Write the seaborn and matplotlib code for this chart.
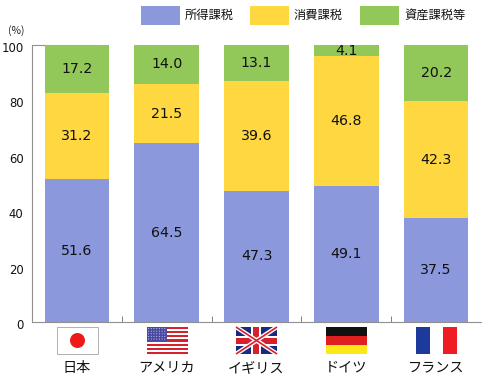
import matplotlib
matplotlib.use("Agg")
import matplotlib.pyplot as plt
from matplotlib.patches import Rectangle, Circle
from matplotlib.transforms import ScaledTranslation
import seaborn as sns
import pandas as pd
import numpy as np

countries = ["日本", "アメリカ", "イギリス", "ドイツ", "フランス"]
income = [51.6, 64.5, 47.3, 49.1, 37.5]
consumption = [31.2, 21.5, 39.6, 46.8, 42.3]
assets = [17.2, 14.0, 13.1, 4.1, 20.2]
series_names = ["所得課税", "消費課税", "資産課税等"]
colors = ["#8C98DC", "#FFD740", "#92C75A"]
yticks = [0, 20, 40, 60, 80, 100]

sns.set_theme(style="white")
plt.rcParams["font.family"] = ["Noto Sans CJK JP", "DejaVu Sans"]

W, H = 485, 377
fig = plt.figure(figsize=(W / 100, H / 100), dpi=100, facecolor="white")
L, R, T, B = 32, 481, 45, 322
ax = fig.add_axes([L / W, 1 - B / H, (R - L) / W, (B - T) / H])

df = pd.DataFrame({"country": countries, "income": income, "consumption": consumption, "assets": assets})
bottom = np.zeros(len(countries))
for col, c in zip(["income", "consumption", "assets"], colors):
    sns.barplot(data=df, x="country", y=col, bottom=bottom, color=c, saturation=1,
                width=0.72, ax=ax, edgecolor="none", linewidth=0)
    vals = df[col].to_numpy()
    for i, v in enumerate(vals):
        ax.text(i, bottom[i] + v / 2, f"{v:.1f}", ha="center", va="center", fontsize=10.2,
                color="#111111", family="DejaVu Sans")
    bottom = bottom + vals

ax.set_xlim(-0.5, 4.5)
ax.set_ylim(0, 100)
ax.set_xlabel("")
ax.set_ylabel("")
ax.set_yticks(yticks)
ax.set_yticklabels([str(t) for t in yticks], fontsize=8.4, color="#111111", family="DejaVu Sans")
ax.set_xticks(range(5))
ax.set_xticklabels(countries, fontsize=10.2, color="#111111")
ax.set_xticks([0.5, 1.5, 2.5, 3.5], minor=True)
ax.tick_params(axis="x", which="major", length=0, pad=28)
ax.tick_params(axis="x", which="minor", length=4, width=0.7, color="#808080", direction="in", bottom=True)
ax.tick_params(axis="y", which="major", length=0, pad=6)
shift = ScaledTranslation(0, -2 / 100, fig.dpi_scale_trans)
for lab in ax.get_yticklabels():
    lab.set_transform(lab.get_transform() + shift)
for s in ["top", "right"]:
    ax.spines[s].set_visible(False)
for s in ["left", "bottom"]:
    ax.spines[s].set_color("#909090")
    ax.spines[s].set_linewidth(0.8)
ax.plot([0, 0.14], [100, 100], transform=ax.get_yaxis_transform(), color="#909090", lw=0.8, clip_on=False, zorder=0)
ax.set_axisbelow(True)

# overlay in pixel coordinates: legend and flags
ov = fig.add_axes([0, 0, 1, 1], facecolor="none")
ov.set_xlim(0, W)
ov.set_ylim(H, 0)
ov.axis("off")

for x0, name, c in zip([141, 250, 360], series_names, colors):
    ov.add_patch(Rectangle((x0, 6), 39, 19, fc=c, ec="none"))
    ov.text(x0 + 44, 15.5, name, fontsize=8.8, va="center", ha="left", color="#111111")
ov.text(8, 31, "(%)", fontsize=7.5, va="center", ha="left", color="#222222")

fy, fh, fw = 327, 27, 41
# Japan
x = 57
ov.add_patch(Rectangle((x, fy), fw, fh, fc="white", ec="#B0B0B0", lw=0.7))
ov.add_patch(Circle((x + fw / 2, fy + fh / 2), 7.5, fc="#F01818", ec="none"))
# USA
x = 147
for i in range(13):
    ov.add_patch(Rectangle((x, fy + i * fh / 13), fw, fh / 13, fc="#D8202C" if i % 2 == 0 else "white", ec="none"))
ov.add_patch(Rectangle((x, fy), fw * 0.48, fh * 0.53, fc="#4848A0", ec="none"))
for r in range(5):
    for k in range(7):
        ov.add_patch(Circle((x + 1.6 + k * 2.7, fy + 1.6 + r * 2.6), 0.55, fc="#C8C8F0", ec="none"))
# UK
x = 236
ov.add_patch(Rectangle((x, fy), fw, fh, fc="#1A2A80", ec="none"))
ov.plot([x, x + fw], [fy, fy + fh], color="white", lw=3.2, solid_capstyle="butt")
ov.plot([x, x + fw], [fy + fh, fy], color="white", lw=3.2, solid_capstyle="butt")
ov.plot([x, x + fw], [fy, fy + fh], color="#D8202C", lw=1.2, solid_capstyle="butt")
ov.plot([x, x + fw], [fy + fh, fy], color="#D8202C", lw=1.2, solid_capstyle="butt")
ov.add_patch(Rectangle((x + fw / 2 - 5, fy), 10, fh, fc="white", ec="none"))
ov.add_patch(Rectangle((x, fy + fh / 2 - 5), fw, 10, fc="white", ec="none"))
ov.add_patch(Rectangle((x + fw / 2 - 3, fy), 6, fh, fc="#D8202C", ec="none"))
ov.add_patch(Rectangle((x, fy + fh / 2 - 3), fw, 6, fc="#D8202C", ec="none"))
# Germany
x = 326
for i, c in enumerate(["#111111", "#E02020", "#FFE818"]):
    ov.add_patch(Rectangle((x, fy + i * fh / 3), fw, fh / 3, fc=c, ec="none"))
# France
x = 416
for i, c in enumerate(["#1C3A9C", "white", "#F01C24"]):
    ov.add_patch(Rectangle((x + i * fw / 3, fy), fw / 3, fh, fc=c, ec="none"))

fig.savefig("out.png", dpi=100, facecolor="white")
